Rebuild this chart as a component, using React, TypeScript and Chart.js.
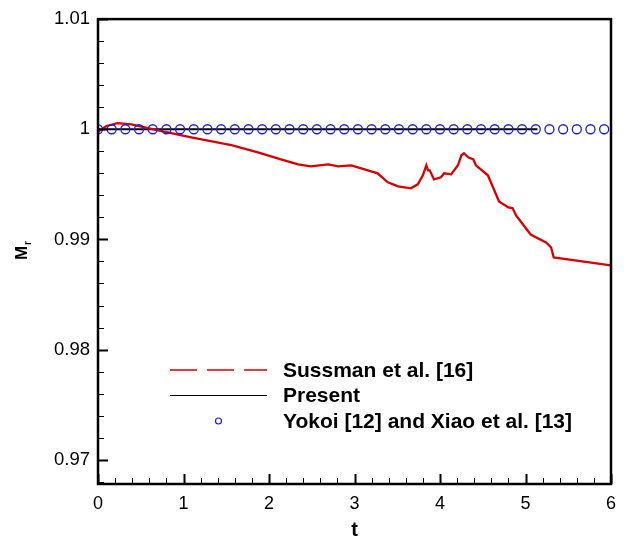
import React, { useEffect, useRef } from 'react';
import { Chart, registerables } from 'chart.js';

Chart.register(...registerables);

const FONT = "'Liberation Sans', Arial, sans-serif";

const X_TICKS = [0, 1, 2, 3, 4, 5, 6];
const Y_TICKS = [0.97, 0.98, 0.99, 1, 1.01];
const X_MINOR_STEP = 0.2;
const Y_MINOR_STEP = 0.002;

const SUSSMAN_T = [0, 0.1, 0.23, 0.39, 0.65, 1.09, 1.56, 1.87, 2.14, 2.34, 2.49, 2.69, 2.81, 2.96, 3.08, 3.27, 3.39, 3.51, 3.66, 3.74, 3.8, 3.84, 3.86, 3.88, 3.93, 4.01, 4.05, 4.13, 4.21, 4.25, 4.28, 4.33, 4.39, 4.42, 4.56, 4.63, 4.69, 4.8, 4.85, 4.89, 4.98, 5.06, 5.24, 5.3, 5.33, 6.0];
const SUSSMAN_M = [0.9998, 1.0003, 1.00055, 1.00045, 1.0, 0.99927, 0.99855, 0.99791, 0.99727, 0.99682, 0.99664, 0.99682, 0.99664, 0.99673, 0.99645, 0.996, 0.99518, 0.99482, 0.99464, 0.995, 0.99582, 0.99673, 0.99627, 0.99627, 0.99545, 0.99564, 0.996, 0.99591, 0.99673, 0.99764, 0.99782, 0.99745, 0.99727, 0.99673, 0.99582, 0.99455, 0.99345, 0.99291, 0.99282, 0.99218, 0.99127, 0.99045, 0.98973, 0.98927, 0.98836, 0.98764];

const PRESENT_T = [0, 5.14];
const PRESENT_M = [1, 1];

const YOKOI_T = [0, 0.16, 0.32, 0.48, 0.64, 0.8, 0.96, 1.12, 1.28, 1.44, 1.6, 1.76, 1.92, 2.08, 2.24, 2.4, 2.56, 2.72, 2.88, 3.04, 3.2, 3.36, 3.52, 3.68, 3.84, 4.0, 4.16, 4.32, 4.48, 4.64, 4.8, 4.96, 5.12, 5.28, 5.44, 5.6, 5.76, 5.92];
const YOKOI_M = [1, 1, 1, 1, 1, 1, 1, 1, 1, 1, 1, 1, 1, 1, 1, 1, 1, 1, 1, 1, 1, 1, 1, 1, 1, 1, 1, 1, 1, 1, 1, 1, 1, 1, 1, 1, 1, 1];

const LEGEND_LABELS = ['Sussman et al. [16]', 'Present', 'Yokoi [12] and Xiao et al. [13]'];

const RED = 'rgb(215,0,0)';
const BLUE = 'rgb(30,30,215)';

const zip = (xs: number[], ys: number[]) => xs.map((x, i) => ({ x, y: ys[i] }));

const framePlugin = {
  id: 'frame',
  afterDraw(chart: any) {
    const { ctx, chartArea: a, scales } = chart;
    const xs = scales.x;
    const ys = scales.y;
    ctx.save();
    ctx.strokeStyle = '#000';
    for (let v = 0; v <= 6 + 1e-9; v += X_MINOR_STEP) {
      const px = Math.round(xs.getPixelForValue(v)) + 0.5;
      const major = X_TICKS.some((t) => Math.abs(t - v) < 1e-6);
      ctx.lineWidth = major ? 2 : 1;
      ctx.beginPath();
      ctx.moveTo(px, a.bottom);
      ctx.lineTo(px, a.bottom - (major ? 10 : 6));
      ctx.stroke();
    }
    for (let v = 0.968; v <= 1.0101; v += Y_MINOR_STEP) {
      const py = Math.round(ys.getPixelForValue(v)) + 0.5;
      const major = Y_TICKS.some((t) => Math.abs(t - v) < 1e-7);
      ctx.lineWidth = major ? 2 : 1;
      ctx.beginPath();
      ctx.moveTo(a.left, py);
      ctx.lineTo(a.left + (major ? 10 : 6), py);
      ctx.stroke();
    }
    ctx.lineWidth = 2.5;
    ctx.strokeRect(a.left, a.top, a.right - a.left, a.bottom - a.top);

    ctx.fillStyle = '#000';
    ctx.font = `bold 20px ${FONT}`;
    ctx.textAlign = 'center';
    ctx.textBaseline = 'middle';
    ctx.fillText('t', (a.left + a.right) / 2, 530);

    ctx.save();
    ctx.translate(21, 250);
    ctx.rotate(-Math.PI / 2);
    ctx.font = `bold 17px ${FONT}`;
    ctx.textAlign = 'left';
    ctx.textBaseline = 'alphabetic';
    const mw = ctx.measureText('M').width;
    ctx.fillText('M', -mw / 2 - 3, 6);
    ctx.font = `bold 10px ${FONT}`;
    ctx.fillText('r', mw / 2 - 2, 10);
    ctx.restore();

    const lx0 = 170;
    const lx1 = 267;
    const tx = 283;
    const rows = [370, 395, 421];
    ctx.font = `bold 21px ${FONT}`;
    ctx.textAlign = 'left';
    ctx.textBaseline = 'middle';
    ctx.strokeStyle = RED;
    ctx.lineWidth = 1.5;
    ctx.setLineDash([27, 10]);
    ctx.beginPath();
    ctx.moveTo(lx0, rows[0]);
    ctx.lineTo(lx1, rows[0]);
    ctx.stroke();
    ctx.setLineDash([]);
    ctx.fillText(LEGEND_LABELS[0], tx, rows[0] + 1);
    ctx.strokeStyle = '#000';
    ctx.lineWidth = 1;
    ctx.beginPath();
    ctx.moveTo(lx0, rows[1] + 0.5);
    ctx.lineTo(lx1, rows[1] + 0.5);
    ctx.stroke();
    ctx.fillText(LEGEND_LABELS[1], tx, rows[1] + 1);
    ctx.strokeStyle = BLUE;
    ctx.lineWidth = 1.2;
    ctx.beginPath();
    ctx.arc((lx0 + lx1) / 2, rows[2], 3, 0, Math.PI * 2);
    ctx.stroke();
    ctx.fillText(LEGEND_LABELS[2], tx, rows[2] + 1);
    ctx.restore();
  },
};

export default function App() {
  const ref = useRef<HTMLCanvasElement | null>(null);

  useEffect(() => {
    document.body.style.margin = '0';
    const canvas = ref.current;
    if (!canvas) return;
    const chart = new Chart(canvas, {
      type: 'scatter',
      data: {
        datasets: [
          {
            label: LEGEND_LABELS[1],
            data: zip(PRESENT_T, PRESENT_M),
            showLine: true,
            borderColor: '#000',
            borderWidth: 1.8,
            pointRadius: 0,
            order: 3,
          },
          {
            label: LEGEND_LABELS[0],
            data: zip(SUSSMAN_T, SUSSMAN_M),
            showLine: true,
            borderColor: RED,
            borderWidth: 2.3,
            pointRadius: 0,
            tension: 0,
            order: 2,
          },
          {
            label: LEGEND_LABELS[2],
            data: zip(YOKOI_T, YOKOI_M),
            showLine: false,
            pointRadius: 4.5,
            pointBorderWidth: 1.3,
            pointBorderColor: BLUE,
            pointBackgroundColor: 'rgba(0,0,0,0)',
            order: 1,
          },
        ],
      },
      options: {
        responsive: false,
        animation: false,
        events: [],
        layout: { padding: { left: 0, top: 17, right: 19, bottom: 0 } },
        plugins: { legend: { display: false }, tooltip: { enabled: false } },
        scales: {
          x: {
            type: 'linear',
            min: 0,
            max: 6,
            grid: { display: false, drawTicks: false },
            border: { display: false },
            afterBuildTicks: (s: any) => {
              s.ticks = X_TICKS.map((v) => ({ value: v }));
            },
            afterFit: (s: any) => {
              s.height = 55;
            },
            ticks: {
              padding: 9,
              color: '#000',
              font: { family: FONT, size: 18 },
              maxRotation: 0,
              callback: (v: any) => String(v),
            },
          },
          y: {
            type: 'linear',
            min: 0.9678,
            max: 1.01,
            grid: { display: false, drawTicks: false },
            border: { display: false },
            afterBuildTicks: (s: any) => {
              s.ticks = Y_TICKS.map((v) => ({ value: v }));
            },
            afterFit: (s: any) => {
              s.width = 98;
            },
            ticks: {
              padding: 8,
              color: '#000',
              font: { family: FONT, size: 18.5 },
              callback: (v: any) => String(v),
            },
          },
        },
      },
      plugins: [framePlugin],
    } as any);
    return () => chart.destroy();
  }, []);

  return (
    <div style={{ width: 630, height: 539 }}>
      <canvas ref={ref} width={630} height={539} style={{ display: 'block' }} />
    </div>
  );
}
